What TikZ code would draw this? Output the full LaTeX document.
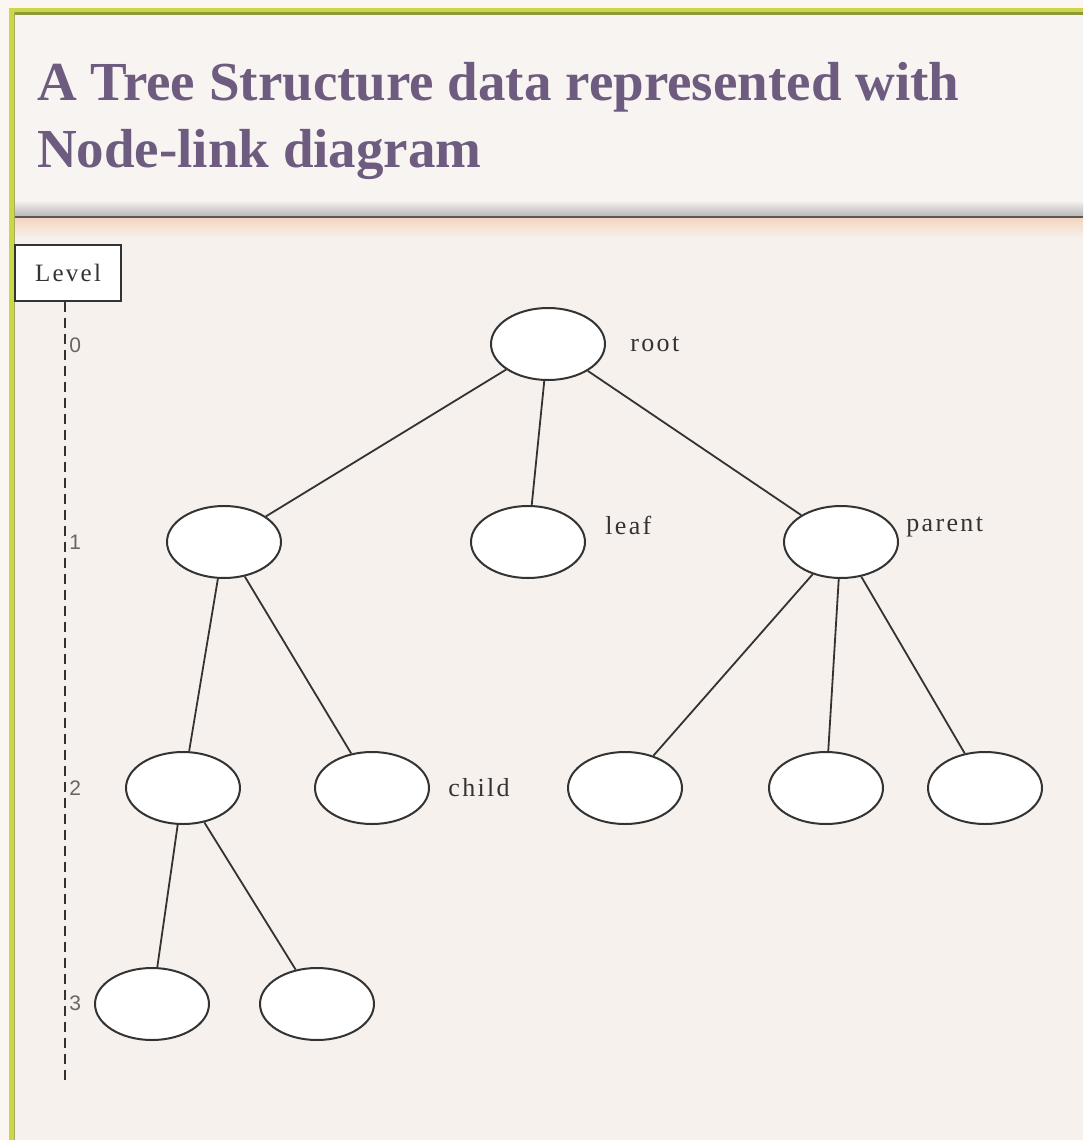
\documentclass[tikz,border=0pt]{standalone}
\usepackage{fontspec}
\usetikzlibrary{shapes.geometric}
\setmainfont{Liberation Serif}
\newfontfamily\tagfont[LetterSpace=9]{Liberation Serif}
\newfontfamily\numfont{Liberation Sans}
\definecolor{pagebg}{HTML}{F6F1ED}
\definecolor{outerbg}{HTML}{FBF6F2}
\definecolor{titlebg}{HTML}{F8F4F1}
\definecolor{titlefg}{HTML}{6E5B80}
\definecolor{framegreen}{HTML}{CDD646}
\definecolor{frameolive}{HTML}{8E9A3A}
\definecolor{peach}{HTML}{F5D5C0}
\definecolor{linegray}{HTML}{333333}

\begin{document}
\begin{tikzpicture}[x=0.5pt, y=-0.5pt,
    treenode/.style={ellipse, draw=linegray, line width=1pt, fill=white, minimum width=57pt, minimum height=36pt, inner sep=0pt},
    link/.style={draw=linegray, line width=0.9pt},
    tag/.style={anchor=west, inner sep=2pt, text=linegray, font=\tagfont\fontsize{13}{15}\selectfont},
    levelnum/.style={anchor=west, inner sep=1pt, text=black!60, font=\numfont\fontsize{10.5}{12}\selectfont},
    titleline/.style={anchor=base west, text=titlefg, font=\bfseries\fontsize{27.5}{33.5}\selectfont}
  ]

  % Background and frame
  \useasboundingbox (0,0) rectangle (1083,1140);
  \fill[outerbg] (0,0) rectangle (1083,1140);
  \fill[pagebg] (15,15) rectangle (1083,1140);
  \fill[titlebg] (15,15) rectangle (1083,217);
  \shade[top color=titlebg, bottom color=gray!55] (15,200) rectangle (1083,216);
  \draw[black!65, line width=1pt] (15,217) -- (1083,217);
  \shade[top color=peach, bottom color=pagebg] (15,218) rectangle (1083,238);
  \fill[framegreen] (9,8) rectangle (1083,12);
  \fill[frameolive] (13,12) rectangle (1083,15);
  \fill[framegreen] (9,8) rectangle (14,1140);
  \fill[frameolive!80] (14,12) rectangle (15,1140);

  % Title
  \node[titleline] (title1) at (30,100) {A Tree Structure data represented with};
  \node[titleline] (title2) at (30,167) {Node-link diagram};

  % Level axis
  \node[draw=linegray, line width=0.7pt, fill=white, minimum width=53pt, minimum height=28pt, inner sep=0pt,
    text=linegray, font=\tagfont\fontsize{12.5}{14}\selectfont] (levelbox) at (68,273) {Level};
  \coordinate (axisend) at (65,1080);
  \draw[linegray, line width=0.8pt, dash pattern=on 5pt off 3pt] (levelbox.south -| axisend) -- (axisend);
  \foreach \lv/\y in {0/345, 1/542, 2/788, 3/1003}
    \node[levelnum] (lv\lv) at (67,\y) {\lv};

  % Tree nodes
  \node[treenode] (root) at (548,344) {};
  \node[treenode] (inner) at (224,542) {};
  \node[treenode] (leaf) at (528,542) {};
  \node[treenode] (parent) at (841,542) {};
  \node[treenode] (mid) at (183,788) {};
  \node[treenode] (child) at (372,788) {};
  \node[treenode] (pa) at (625,788) {};
  \node[treenode] (pb) at (826,788) {};
  \node[treenode] (pc) at (985,788) {};
  \node[treenode] (ga) at (152,1004) {};
  \node[treenode] (gb) at (317,1004) {};

  % Links
  \foreach \a/\b in {root/inner, root/leaf, root/parent, inner/mid, inner/child,
      parent/pa, parent/pb, parent/pc, mid/ga, mid/gb}
    \draw[link] (\a) -- (\b);

  % Labels
  \node[tag] (roottag) at (626,344) {root};
  \node[tag] (leaftag) at (601,525) {leaf};
  \node[tag] (parenttag) at (902,527) {parent};
  \node[tag] (childtag) at (444,788) {child};

\end{tikzpicture}
\end{document}
